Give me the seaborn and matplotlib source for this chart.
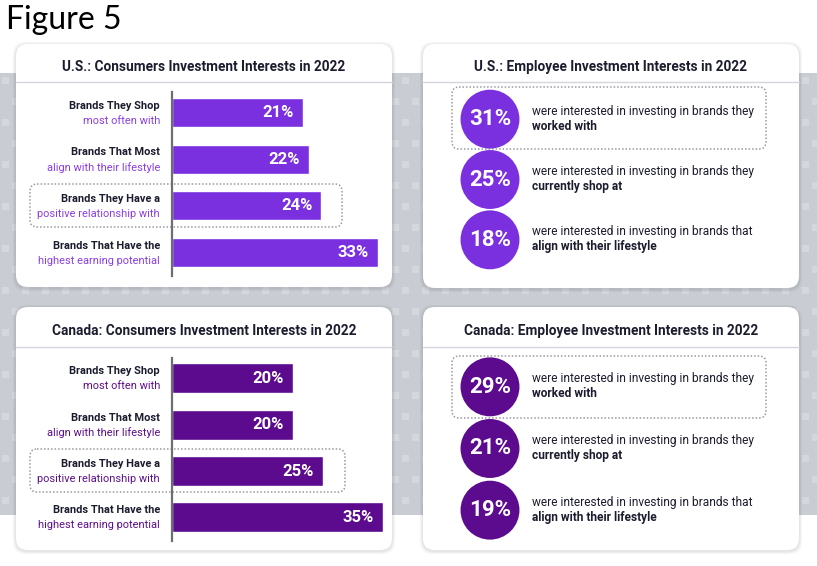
import numpy as np
import pandas as pd
import matplotlib
matplotlib.use("Agg")
import matplotlib.pyplot as plt
import seaborn as sns
from matplotlib.patches import FancyBboxPatch, Rectangle

# ---- data -------------------------------------------------------------
bar_heads = ["Brands They Shop", "Brands That Most",
             "Brands They Have a", "Brands That Have the"]
bar_tails = ["most often with", "align with their lifestyle",
             "positive relationship with", "highest earning potential"]
us_consumer = [21, 22, 24, 33]
ca_consumer = [20, 20, 25, 35]

emp_lead = ["were interested in investing in brands they",
            "were interested in investing in brands they",
            "were interested in investing in brands that"]
emp_bold = ["worked with", "currently shop at", "align with their lifestyle"]
us_employee = [31, 25, 18]
ca_employee = [29, 21, 19]

us_cons_title = "U.S.: Consumers Investment Interests in 2022"
us_emp_title = "U.S.: Employee Investment Interests in 2022"
ca_cons_title = "Canada: Consumers Investment Interests in 2022"
ca_emp_title = "Canada: Employee Investment Interests in 2022"

# ---- style ------------------------------------------------------------
W, H = 817, 566
DARK = "#1b1c2e"
US_PURPLE, US_SUB = "#7b30e0", "#8a3fe4"
CA_PURPLE, CA_SUB = "#5c0a8e", "#5e0f8d"
FONT = ["Roboto", "DejaVu Sans"]

sns.set_theme(style="white")
plt.rcParams["font.family"] = FONT


def frac(x0, y0, x1, y1):
    # pixel box (top-left origin) -> figure fraction rect
    return [x0 / W, 1 - y1 / H, (x1 - x0) / W, (y1 - y0) / H]


fig = plt.figure(figsize=(W / 100, H / 100), dpi=100)
bg = fig.add_axes([0, 0, 1, 1])
bg.set_xlim(0, W)
bg.set_ylim(H, 0)
bg.axis("off")

# grey band with soft square pattern
bg.add_patch(Rectangle((0, 73), W, 442, color="#c9cdd3", lw=0, zorder=0))
for j, y in enumerate(np.arange(77, 510, 21)):
    off = 2 if j % 2 == 0 else 12
    for x in np.arange(off, W, 20):
        bg.add_patch(Rectangle((x, y), 7, 7, color="#d4d7dc", lw=0, zorder=0.5))

bg.text(6, 20, "Figure 5", fontsize=23, family=["Lato", "DejaVu Sans"],
        color="black", va="center", ha="left")


def panel(x0, y0, x1, y1, title, title_y, sep_y):
    for grow, a in [(3, 0.04), (1.5, 0.06)]:
        bg.add_patch(FancyBboxPatch((x0 - grow, y0 - grow + 1), x1 - x0 + 2 * grow,
                                    y1 - y0 + 2 * grow,
                                    boxstyle="round,pad=0,rounding_size=13",
                                    fc="black", ec="none", alpha=a, zorder=1))
    bg.add_patch(FancyBboxPatch((x0, y0), x1 - x0, y1 - y0,
                                boxstyle="round,pad=0,rounding_size=12",
                                fc="white", ec="none", zorder=2))
    bg.text((x0 + x1) / 2, title_y, title, ha="center", va="center",
            fontsize=9.8, fontweight="bold", color=DARK, zorder=3)
    bg.plot([x0, x1], [sep_y, sep_y], color="#d5d6dd", lw=1, zorder=3)


def dotted(x0, y0, x1, y1):
    bg.add_patch(FancyBboxPatch((x0, y0), x1 - x0, y1 - y0,
                                boxstyle="round,pad=0,rounding_size=7",
                                fc="none", ec="#9a9aa2", lw=1.1, ls=(0, (1, 1.3)),
                                zorder=3))


def bar_panel(values, color, sub_color, ax_box, top_pad, bot_pad, xmax, width):
    ax = fig.add_axes(frac(*ax_box))
    ax.set_facecolor("none")
    df = pd.DataFrame({"label": bar_heads, "value": values})
    sns.barplot(data=df, x="value", y="label", orient="h", color=color,
                saturation=1, width=width, ax=ax)
    n = len(values)
    ax.set_ylim(n - 1 + bot_pad, -top_pad)
    ax.set_xlim(0, xmax)
    for i, v in enumerate(values):
        ax.annotate(f"{v}%", (v, i), xytext=(-9, 0), textcoords="offset pixels",
                    ha="right", va="center", color="white", fontsize=12,
                    fontweight="bold")
        ax.annotate(bar_heads[i], (0, i), xytext=(-12, 7), textcoords="offset pixels",
                    ha="right", va="center", color=DARK, fontsize=7.9,
                    fontweight="bold", annotation_clip=False)
        ax.annotate(bar_tails[i], (0, i), xytext=(-12, -8), textcoords="offset pixels",
                    ha="right", va="center", color=sub_color, fontsize=7.9,
                    annotation_clip=False)
    ax.set(xlabel="", ylabel="", xticks=[], yticks=[])
    for s in ["top", "right", "bottom"]:
        ax.spines[s].set_visible(False)
    ax.spines["left"].set_color("#6e6e72")
    ax.spines["left"].set_linewidth(1.6)
    return ax


def circle_panel(values, color, ax_box):
    ax = fig.add_axes(frac(*ax_box))
    ax.set_facecolor("none")
    n = len(values)
    df = pd.DataFrame({"row": np.arange(n), "value": values, "col": 38})
    sns.scatterplot(data=df, x="col", y="row", s=1800, color=color,
                    edgecolor="none", legend=False, ax=ax, clip_on=False)
    ax.set_xlim(0, ax_box[2] - ax_box[0])
    ax.set_ylim(n - 0.5, -0.5)
    for i, v in enumerate(values):
        ax.annotate(f"{v}%", (38, i), ha="center", va="center", color="white",
                    fontsize=16, fontweight="bold")
        ax.annotate(emp_lead[i], (80, i), xytext=(0, 8), textcoords="offset pixels",
                    ha="left", va="center", color=DARK, fontsize=8.6)
        ax.annotate(emp_bold[i], (80, i), xytext=(0, -7), textcoords="offset pixels",
                    ha="left", va="center", color=DARK, fontsize=8.6,
                    fontweight="bold")
    ax.axis("off")
    return ax


# ---- U.S. consumers ----
panel(16, 44, 392, 287, us_cons_title, 67, 82)
dotted(30, 184, 342, 227)
bar_panel(us_consumer, US_PURPLE, US_SUB, (172, 92, 392, 276), 0.44, 0.5, 219 / 6.2, 0.62)

# ---- U.S. employees ----
panel(423, 44, 799, 288, us_emp_title, 67, 82)
dotted(452, 87, 766, 149)
circle_panel(us_employee, US_PURPLE, (452, 89, 766, 270))

# ---- Canada consumers ----
panel(16, 307, 392, 550, ca_cons_title, 331, 347)
dotted(30, 449, 345, 492)
bar_panel(ca_consumer, CA_PURPLE, CA_SUB, (172, 358, 392, 541), 0.44, 0.51, 219 / 6.0, 0.65)

# ---- Canada employees ----
panel(423, 307, 799, 550, ca_emp_title, 331, 347)
dotted(452, 356, 766, 418)
circle_panel(ca_employee, CA_PURPLE, (452, 356, 766, 541))

fig.savefig("out.png", dpi=100)
